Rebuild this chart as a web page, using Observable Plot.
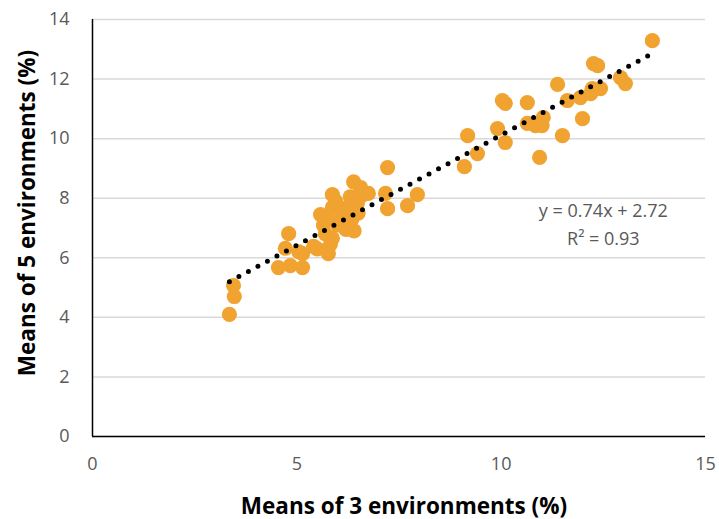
<!DOCTYPE html>
<html>
<head>
<meta charset="utf-8">
<script src="https://cdn.jsdelivr.net/npm/d3@7"></script>
<script src="https://cdn.jsdelivr.net/npm/@observablehq/plot@0.6"></script>
<style>
  html, body { margin: 0; padding: 0; background: #fff; }
  #chart { width: 719px; height: 519px; }
</style>
</head>
<body>
<div id="chart"></div>
<script>
// Means of 3 environments (%)
const xValues = [
  3.35, 3.47, 3.45,
  4.55, 4.84, 5.14, 4.80, 4.72, 5.05, 5.14, 5.41, 5.77, 5.82, 5.87, 5.58, 5.65,
  5.87, 5.87, 5.95, 6.07, 6.10, 6.31, 6.24, 6.31, 6.39, 6.56, 6.75, 6.48, 6.35,
  6.20, 6.40, 6.00, 5.70, 7.17, 7.22, 7.71, 7.95, 7.22, 5.50, 6.60, 6.50, 5.75,
  9.10, 9.18, 9.42, 9.91, 10.10, 10.03, 10.10, 10.64, 10.64, 10.84, 11.00, 11.03,
  10.94, 11.50, 11.38, 11.62, 11.94, 12.19, 12.23, 12.43, 12.26, 12.36, 12.92,
  13.04, 13.70, 11.99
];
// Means of 5 environments (%)
const yValues = [
  4.10, 4.70, 5.07,
  5.67, 5.74, 5.67, 6.81, 6.32, 6.20, 6.14, 6.38, 6.14, 6.45, 6.65, 7.45, 7.10,
  8.12, 7.69, 7.90, 7.32, 7.55, 7.02, 7.69, 8.05, 8.55, 8.36, 8.16, 7.82, 7.30,
  6.95, 6.90, 7.10, 6.80, 8.16, 7.65, 7.75, 8.12, 9.03, 6.30, 8.10, 7.50, 7.30,
  9.06, 10.10, 9.50, 10.34, 9.87, 11.28, 11.18, 11.21, 10.51, 10.44, 10.44, 10.71,
  9.37, 10.10, 11.82, 11.28, 11.38, 11.51, 11.68, 11.68, 12.52, 12.45, 12.05,
  11.85, 13.29, 10.67
];
// Trend line (as reported on the chart)
const slope = 0.74;
const intercept = 2.72;
const equationLines = ["y = 0.74x + 2.72", "R² = 0.93"];

const xTicks = [0, 5, 10, 15];
const yTicks = [0, 2, 4, 6, 8, 10, 12, 14];
const xTitle = "Means of 3 environments (%)";
const yTitle = "Means of 5 environments (%)";

const points = xValues.map((x, i) => ({x, y: yValues[i]}));
const xmin = d3.min(xValues), xmax = d3.max(xValues);
const trend = [xmin, xmax].map(x => ({x, y: slope * x + intercept}));

const font = "'Open Sans', Carlito, Calibri, sans-serif";

const chart = Plot.plot({
  width: 719,
  height: 519,
  marginLeft: 92,
  marginRight: 14,
  marginTop: 19,
  marginBottom: 83,
  style: {fontFamily: font, background: "#fff", overflow: "visible"},
  x: {domain: [0, 15]},
  y: {domain: [0, 14]},
  marks: [
    Plot.gridY(yTicks, {stroke: "#d9d9d9", strokeOpacity: 1, strokeWidth: 1.5}),
    Plot.ruleX([0], {stroke: "#000", strokeWidth: 1.5}),
    Plot.ruleY([0], {stroke: "#000", strokeWidth: 1.5}),
    Plot.axisX(xTicks, {tickSize: 0, tickPadding: 21, fontSize: 18, fill: "#595959", label: null}),
    Plot.axisY(yTicks, {tickSize: 0, tickPadding: 23, fontSize: 18, fill: "#595959", label: null}),
    Plot.dot(points, {x: "x", y: "y", r: 7.6, fill: "#F1A332", stroke: null}),
    Plot.line(trend, {x: "x", y: "y", stroke: "#000", strokeWidth: 5, strokeLinecap: "round", strokeDasharray: "0 10.8"}),
    Plot.text([equationLines.join("\n")], {x: 12.5, y: 7.2, lineHeight: 1.55, fontSize: 18, fill: "#595959", textAnchor: "middle"}),
    Plot.text([xTitle], {frameAnchor: "bottom", dx: 5, dy: 77, fontSize: 22.5, fontWeight: "bold", fill: "#000"}),
    Plot.text([yTitle], {frameAnchor: "left", textAnchor: "middle", dx: -65, dy: -15, rotate: -90, fontSize: 22.5, fontWeight: "bold", fill: "#000"})
  ]
});

document.getElementById("chart").appendChild(chart);
</script>
</body>
</html>
